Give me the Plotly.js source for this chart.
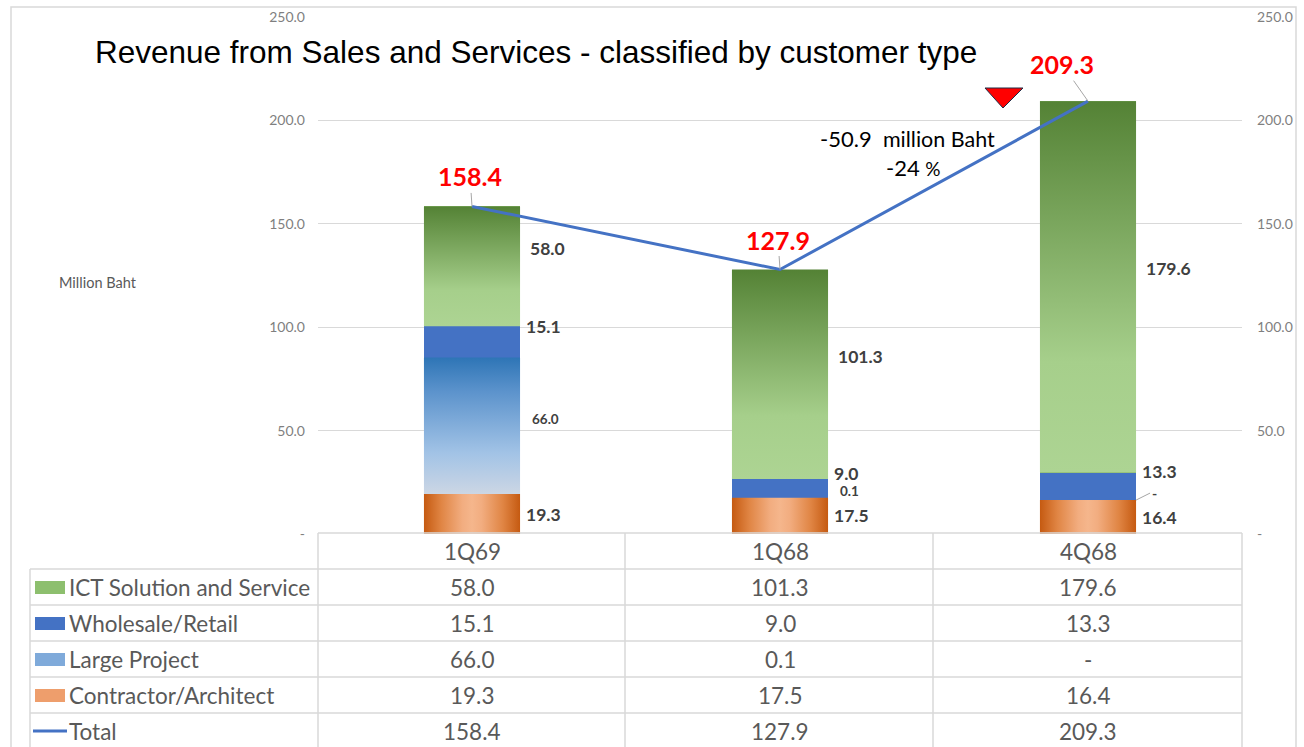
<!DOCTYPE html>
<html>
<head>
<meta charset="utf-8">
<script src="https://cdn.plot.ly/plotly-3.0.1.min.js"></script>
<style>
html,body{margin:0;padding:0;background:#fff;}
#chart{width:1304px;height:747px;}
</style>
</head>
<body>
<div id="chart"></div>
<script>
// ---------------- data ----------------
const categories = ['1Q69', '1Q68', '4Q68'];
const ictSolution = [58.0, 101.3, 179.6];
const wholesaleRetail = [15.1, 9.0, 13.3];
const largeProject = [66.0, 0.1, 0];
const contractorArchitect = [19.3, 17.5, 16.4];
const total = [158.4, 127.9, 209.3];
const seriesNames = ['ICT Solution and Service', 'Wholesale/Retail', 'Large Project', 'Contractor/Architect', 'Total'];
const yTickValues = [0, 50, 100, 150, 200, 250];
const yTickLabels = ['-', '50.0', '100.0', '150.0', '200.0', '250.0'];
const chartTitle = 'Revenue from Sales and Services - classified by customer type';
const yUnitLabel = 'Million Baht';
const changeAmount = '-50.9';
const changeUnit = 'million Baht';
const changePercent = '-24';

// ---------------- geometry / style ----------------
const W = 1304, H = 747;
const plotL = 318, plotR = 1242, plotT = 17, plotB = 534;
const px2x = p => (p - plotL) / (plotR - plotL);
const px2y = p => (plotB - p) / (plotB - plotT);
const barWidth = 0.312;
const barHalfPx = barWidth / 3 * (plotR - plotL) / 2;
const FONT = 'Lato, "Open Sans", sans-serif';
const gridColor = '#d9d9d9';
const lineBlue = '#4472C4';

const idx = categories.map((c, i) => i);
const fmt = v => (v === 0 ? '-' : v.toFixed(1));

// stacking (bottom -> top)
const stack = [
  {name: seriesNames[3], vals: contractorArchitect, color: '#E8915A', swatch: '#EE9E6C',
   grad: {type: 'horizontal', colorscale: [[0, '#C55A11'], [0.18, '#E08544'], [0.4, '#F2AD80'], [0.5, '#F5B68C'],
     [0.6, '#F2AD80'], [0.82, '#E08544'], [1, '#C55A11']]},
   lbl: {size: 17.5, yshift: 0, gap: 4}},
  {name: seriesNames[2], vals: largeProject, color: '#6D9FD3', swatch: '#7FAADA',
   grad: {type: 'vertical', colorscale: [[0, '#CCD6E4'], [0.3, '#A2C3E6'], [0.75, '#5C93CC'], [1, '#2E75B6']]},
   lbl: {size: 13.5, yshift: 7, gap: 10}},
  {name: seriesNames[1], vals: wholesaleRetail, color: '#4472C4', swatch: '#4472C4',
   grad: null, lbl: {size: 17.5, yshift: 15, gap: 4}},
  {name: seriesNames[0], vals: ictSolution, color: '#84B264', swatch: '#8DBF6E',
   grad: {type: 'vertical', colorscale: [[0, '#ADD493'], [0.3, '#A6CF8B'], [1, '#548235']]},
   lbl: {size: 17.5, yshift: 18, gap: 8}}
];

const traces = [];
const bases = categories.map(() => 0);
const segs = [];
stack.forEach(s => {
  traces.push({
    type: 'bar', name: s.name, x: idx, y: s.vals, width: barWidth,
    marker: {color: s.color, line: {width: 0}}, showlegend: false, hoverinfo: 'y+name'
  });
  s.vals.forEach((v, i) => {
    segs.push({s: s, i: i, base: bases[i], v: v});
    bases[i] += v;
  });
});
// gradient overlays built from the same stacked values
segs.forEach(g => {
  if (!g.s.grad || g.v <= 0.5) return;
  const x0 = g.i - barWidth / 2, x1 = g.i + barWidth / 2;
  const y0 = g.base, y1 = g.base + g.v;
  traces.push({
    type: 'scatter', mode: 'lines', x: [x0, x1, x1, x0, x0], y: [y0, y0, y1, y1, y0],
    fill: 'toself', fillcolor: g.s.color, fillgradient: g.s.grad,
    line: {width: 0, color: 'rgba(0,0,0,0)'}, hoverinfo: 'skip', showlegend: false
  });
});
// total line
traces.push({
  type: 'scatter', mode: 'lines', name: seriesNames[4], x: idx, y: total,
  line: {color: lineBlue, width: 3}, showlegend: false, hoverinfo: 'y+name'
});

// ---------------- annotations ----------------
const ann = [];
// segment value labels
segs.forEach(g => {
  const isZero = g.v === 0;
  if (isZero) {
    ann.push({
      x: g.i + barWidth / 2, y: g.base, xref: 'x', yref: 'y', text: '-',
      showarrow: true, arrowhead: 0, arrowwidth: 1, arrowcolor: '#a6a6a6', ax: 14, ay: -7,
      xanchor: 'left', font: {family: FONT, size: 14, color: '#404040', weight: 700}
    });
    return;
  }
  ann.push({
    x: g.i, y: g.base + g.v / 2, xref: 'x', yref: 'y', text: fmt(g.v), showarrow: false,
    xanchor: 'left', yanchor: 'middle', xshift: barHalfPx + g.s.lbl.gap, yshift: g.s.lbl.yshift,
    font: {family: FONT, size: g.s.lbl.size, color: '#404040', weight: 700}
  });
});
// total labels
const totalOffsets = [[-2, -30], [-2, -30], [-26, -37]];
total.forEach((v, i) => {
  ann.push({
    x: i, y: v, xref: 'x', yref: 'y', text: v.toFixed(1), showarrow: true,
    arrowhead: 0, arrowwidth: 1, arrowcolor: '#a6a6a6', ax: totalOffsets[i][0], ay: totalOffsets[i][1],
    font: {family: FONT, size: 25, color: '#FF0000', weight: 700}
  });
});
// change annotation
ann.push({
  xref: 'paper', yref: 'paper', x: px2x(818), y: px2y(138), xanchor: 'left', yanchor: 'middle',
  showarrow: false, text: changeAmount + '  <span style="font-size:21.5px">' + changeUnit + '</span>',
  font: {family: FONT, size: 22, color: '#000'}
});
ann.push({
  xref: 'paper', yref: 'paper', x: px2x(884), y: px2y(168), xanchor: 'left', yanchor: 'middle',
  showarrow: false, text: changePercent + ' <span style="font-size:19px">%</span>',
  font: {family: FONT, size: 22, color: '#000'}
});
// unit label
ann.push({
  xref: 'paper', yref: 'paper', x: px2x(57), y: px2y(283), xanchor: 'left', yanchor: 'middle',
  showarrow: false, text: yUnitLabel, font: {family: FONT, size: 14.5, color: '#595959'}
});

// ---------------- data table ----------------
const shapes = [];
const tblColor = '#d9d9d9';
const tblLeft = 30, rowLines = [569, 605, 641, 677, 713];
const headerTop = 533, tblBottom = 760;
const colLines = [318, 625, 933, 1242];
const rowCenters = [587, 623, 659, 695, 731];
const tblFont = {family: FONT, size: 22.5, color: '#595959'};
const line = (x0, y0, x1, y1, c, w) => ({type: 'line', xref: 'paper', yref: 'paper',
  x0: px2x(x0), y0: px2y(y0), x1: px2x(x1), y1: px2y(y1), line: {color: c, width: w}});
shapes.push(line(plotL, headerTop, 1242, headerTop, tblColor, 1.5));
rowLines.forEach(y => shapes.push(line(tblLeft, y, 1242, y, tblColor, 1.5)));
colLines.forEach(x => shapes.push(line(x, headerTop, x, tblBottom, tblColor, 1.5)));
shapes.push(line(tblLeft, rowLines[0], tblLeft, tblBottom, tblColor, 1.5));
// outer chart border
shapes.push({type: 'rect', xref: 'paper', yref: 'paper', x0: px2x(11), x1: px2x(1296),
  y0: px2y(7), y1: px2y(800), line: {color: '#d9d9d9', width: 1.5}, fillcolor: 'rgba(0,0,0,0)', layer: 'below'});
// red triangle marker
shapes.push({type: 'path', xref: 'paper', yref: 'paper',
  path: `M ${px2x(985)},${px2y(88)} L ${px2x(1023)},${px2y(88)} L ${px2x(1003)},${px2y(108)} Z`,
  fillcolor: '#FF0000', line: {color: '#1F2A44', width: 1}});

// header row
categories.forEach((c, i) => ann.push({
  x: i, xref: 'x', yref: 'paper', y: px2y(551), text: c, showarrow: false, yanchor: 'middle',
  font: tblFont
}));
const tableRows = [
  {name: seriesNames[0], vals: ictSolution, swatch: stack[3].swatch},
  {name: seriesNames[1], vals: wholesaleRetail, swatch: stack[2].swatch},
  {name: seriesNames[2], vals: largeProject, swatch: stack[1].swatch},
  {name: seriesNames[3], vals: contractorArchitect, swatch: stack[0].swatch},
  {name: seriesNames[4], vals: total, swatch: null}
];
tableRows.forEach((r, k) => {
  const cy = rowCenters[k];
  if (r.swatch) {
    shapes.push({type: 'rect', xref: 'paper', yref: 'paper', x0: px2x(35), x1: px2x(65),
      y0: px2y(cy - 6), y1: px2y(cy + 7), fillcolor: r.swatch, line: {width: 0}});
  } else {
    shapes.push(line(33, cy, 67, cy, lineBlue, 3));
  }
  ann.push({xref: 'paper', yref: 'paper', x: px2x(67), y: px2y(cy), xanchor: 'left', yanchor: 'middle',
    text: r.name, showarrow: false, font: tblFont});
  r.vals.forEach((v, i) => ann.push({
    x: i, xref: 'x', yref: 'paper', y: px2y(cy), text: fmt(v), showarrow: false, yanchor: 'middle',
    font: tblFont
  }));
});

// ---------------- layout ----------------
const tickFont = {family: FONT, size: 14, color: '#7f7f7f'};
const layout = {
  width: W, height: H,
  margin: {l: plotL, r: W - plotR, t: plotT, b: H - plotB, pad: 0},
  paper_bgcolor: '#fff', plot_bgcolor: 'rgba(0,0,0,0)',
  showlegend: false, barmode: 'stack',
  title: {text: chartTitle, xref: 'container', yref: 'container', x: 95 / W, xanchor: 'left',
    y: 1 - 52 / H, yanchor: 'middle', font: {family: '"Liberation Sans", Arial, sans-serif', size: 31.5, color: '#000'}},
  xaxis: {type: 'linear', range: [-0.5, 2.5], showticklabels: false, showgrid: false, zeroline: false,
    showline: false, ticks: '', fixedrange: true},
  yaxis: {range: [0, 250], tickvals: yTickValues, ticktext: yTickLabels, showgrid: true, gridcolor: gridColor,
    gridwidth: 1.3, zeroline: false, showline: false, ticks: '', tickfont: tickFont, ticklabelstandoff: 12, fixedrange: true},
  yaxis2: {range: [0, 250], overlaying: 'y', side: 'right', tickvals: yTickValues, ticktext: yTickLabels,
    showgrid: false, zeroline: false, showline: false, ticks: '', tickfont: tickFont, ticklabelstandoff: 14, fixedrange: true},
  annotations: ann,
  shapes: shapes
};
// invisible trace so the right-hand axis labels are drawn
traces.push({type: 'scatter', x: [null], y: [null], yaxis: 'y2', showlegend: false, hoverinfo: 'skip'});

Plotly.newPlot('chart', traces, layout, {displayModeBar: false, staticPlot: true});
</script>
</body>
</html>
